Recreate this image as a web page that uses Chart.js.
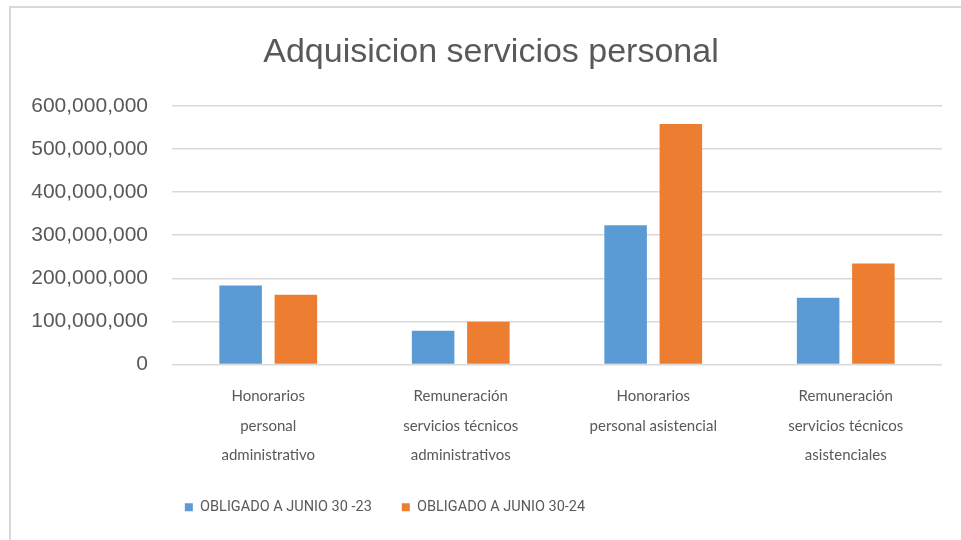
<!DOCTYPE html>
<html>
<head>
<meta charset="utf-8">
<script src="https://cdn.jsdelivr.net/npm/chart.js@4"></script>
<style>
  html, body { margin: 0; padding: 0; background: #ffffff; overflow: hidden; }
  #frame { position: absolute; left: 9px; top: 6px; width: 1000px; height: 600px;
           border-left: 2.5px solid #d9d9d9; border-top: 2.5px solid #d9d9d9; }
  #wrap { position: absolute; left: 0; top: 0; width: 961px; height: 540px; }
</style>
</head>
<body>
<div id="frame"></div>
<div id="wrap"><canvas id="c" width="961" height="540"></canvas></div>
<script>
const chartTitle = "Adquisicion servicios personal";
const categories = [
  ["Honorarios", "personal", "administrativo"],
  ["Remuneración", "servicios técnicos", "administrativos"],
  ["Honorarios", "personal asistencial"],
  ["Remuneración", "servicios técnicos", "asistenciales"]
];
const seriesNames = ["OBLIGADO A JUNIO 30 -23", "OBLIGADO A JUNIO 30-24"];
const obligado23 = [183000000, 78000000, 323000000, 155000000];
const obligado24 = [162000000, 99000000, 558000000, 234000000];
const yTicks = [0, 100000000, 200000000, 300000000, 400000000, 500000000, 600000000];

const textColor = "#595959";
const gridColor = "#d9d9d9";

const shiftPlugin = {
  id: "shiftBlocks",
  afterLayout(chart) {
    if (chart.titleBlock) { chart.titleBlock.left = 21; chart.titleBlock.right = 961; }
    if (chart.legend) { chart.legend.left = 0; chart.legend.right = 770; }
  }
};

new Chart(document.getElementById("c"), {
  type: "bar",
  data: {
    labels: categories,
    datasets: [
      { label: seriesNames[0], data: obligado23, backgroundColor: "#5B9BD5", borderWidth: 0,
        categoryPercentage: 0.574, barPercentage: 0.77 },
      { label: seriesNames[1], data: obligado24, backgroundColor: "#ED7D31", borderWidth: 0,
        categoryPercentage: 0.574, barPercentage: 0.77 }
    ]
  },
  plugins: [shiftPlugin],
  options: {
    responsive: false,
    animation: false,
    events: [],
    layout: { padding: { left: 0, right: 19, top: 0, bottom: 15.5 } },
    plugins: {
      title: {
        display: true, text: chartTitle, color: textColor,
        font: { family: "'Liberation Sans', Arial, sans-serif", size: 34, weight: "normal", lineHeight: 1.2 },
        padding: { top: 32, bottom: 33 }
      },
      legend: {
        position: "bottom",
        labels: {
          color: textColor, boxWidth: 8, boxHeight: 8, padding: 30,
          font: { family: "Roboto, 'Liberation Sans', sans-serif", size: 14.5 }
        }
      },
      tooltip: { enabled: false }
    },
    scales: {
      x: {
        grid: { display: false, drawTicks: false },
        border: { display: false },
        ticks: {
          color: textColor, padding: 17, maxRotation: 0, autoSkip: false,
          font: { family: "Lato, 'Liberation Sans', sans-serif", size: 15, lineHeight: 1.967 }
        },
        afterFit(scale) { scale.height = 105.5; }
      },
      y: {
        min: 0, max: 600000000,
        afterBuildTicks(scale) { scale.ticks = yTicks.map(v => ({ value: v })); },
        grid: { color: gridColor, lineWidth: 1.5, drawTicks: false },
        border: { display: false },
        ticks: {
          color: textColor, padding: 24,
          font: { family: "'Liberation Sans', Arial, sans-serif", size: 21 },
          callback: (v) => Number(v).toLocaleString("en-US")
        },
        afterFit(scale) { scale.width = 172; }
      }
    }
  }
});
</script>
</body>
</html>
